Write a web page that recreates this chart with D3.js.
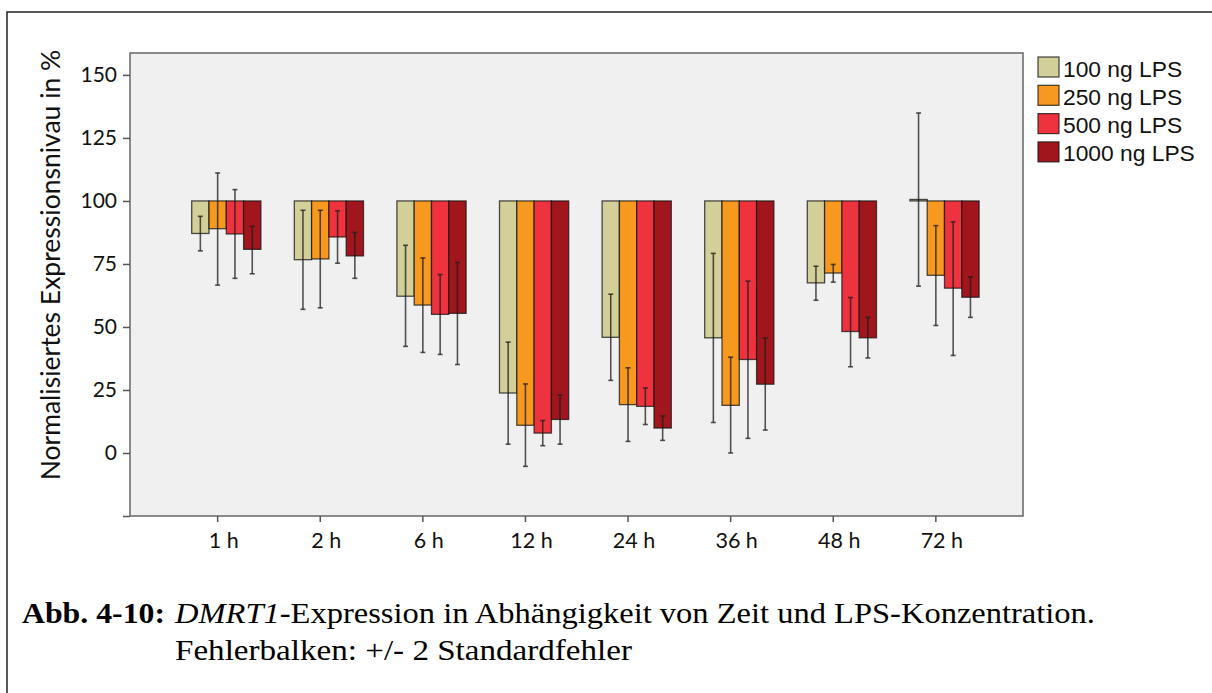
<!DOCTYPE html>
<html>
<head>
<meta charset="utf-8">
<script src="https://cdn.jsdelivr.net/npm/d3@7"></script>
<style>
  body { margin: 0; background: #fff; }
</style>
</head>
<body>
<div id="chart"></div>
<script>
// categories and series
var times = ["1 h", "2 h", "6 h", "12 h", "24 h", "36 h", "48 h", "72 h"];
var doses = ["100 ng LPS", "250 ng LPS", "500 ng LPS", "1000 ng LPS"];
var colors = ["#d3cf98", "#f8991f", "#ef333e", "#a1161c"];

// mean expression (%) per dose, one value per time point
var mean100  = [87.1, 76.7, 62.2, 23.8, 45.9, 45.7, 67.5, 100.6];
var mean250  = [89.0, 77.0, 58.7, 11.0, 19.2, 18.9, 71.4, 70.5];
var mean500  = [86.9, 85.7, 55.0, 7.9, 18.5, 37.1, 48.2, 65.4];
var mean1000 = [80.8, 78.2, 55.4, 13.3, 9.9, 27.3, 45.7, 61.8];

// error bar ends (+/- 2 SE)
var hi100  = [93.9, 96.3, 82.4, 44.0, 63.0, 79.2, 74.1, 134.9];
var lo100  = [80.2, 57.0, 42.3, 3.5, 28.8, 12.1, 60.6, 66.2];
var hi250  = [111.1, 96.3, 77.4, 27.4, 33.8, 38.0, 74.8, 90.2];
var lo250  = [66.6, 57.6, 39.9, -5.3, 4.6, 0.0, 67.8, 50.6];
var hi500  = [104.5, 96.1, 70.8, 12.9, 25.8, 68.2, 61.7, 91.7];
var lo500  = [69.3, 75.3, 39.1, 2.9, 11.3, 5.8, 34.2, 38.7];
var hi1000 = [89.9, 87.5, 75.6, 23.0, 14.7, 45.6, 53.8, 69.9];
var lo1000 = [71.1, 69.3, 35.1, 3.5, 5.0, 9.1, 37.7, 53.8];

var yTicks = [0, 25, 50, 75, 100, 125, 150];
var baseline = 100;

var means = [mean100, mean250, mean500, mean1000];
var his = [hi100, hi250, hi500, hi1000];
var los = [lo100, lo250, lo500, lo1000];

var rows = [];
times.forEach(function(t, i) {
  doses.forEach(function(d, j) {
    rows.push({time: t, dose: d, k: j, mean: means[j][i], hi: his[j][i], lo: los[j][i]});
  });
});

var W = 1212, H = 693;
var plot = {left: 130, top: 53, right: 1023, bottom: 516};

var svg = d3.select("#chart").append("svg")
  .attr("width", W)
  .attr("height", H);

// outer frame (only top and left edges are inside the picture)
svg.append("path")
  .attr("d", "M7,693 V12 H1212")
  .attr("fill", "none")
  .attr("stroke", "#222")
  .attr("stroke-width", 1.5);

var y = d3.scaleLinear()
  .domain([-25, 158.7])
  .range([plot.bottom, plot.top]);

var x = d3.scaleBand()
  .domain(times)
  .range([191.7, 979.1])
  .paddingInner(0.3255)
  .paddingOuter(0);

var xs = d3.scaleBand()
  .domain(doses)
  .range([0, x.bandwidth()]);

var color = d3.scaleOrdinal().domain(doses).range(colors);

// plot background
svg.append("rect")
  .attr("x", plot.left)
  .attr("y", plot.top)
  .attr("width", plot.right - plot.left)
  .attr("height", plot.bottom - plot.top)
  .attr("fill", "#f0f0f0")
  .attr("stroke", "#666")
  .attr("stroke-width", 1.5);

// Y axis
var yAxis = svg.append("g")
  .attr("transform", "translate(" + plot.left + ",0)")
  .call(d3.axisLeft(y).tickValues(yTicks.concat([-25])).tickSize(7).tickPadding(6)
    .tickFormat(function(d) { return d < 0 ? "" : d; }));
yAxis.select(".domain").remove();
yAxis.selectAll(".tick line").attr("stroke", "#555").attr("stroke-width", 1.5);
yAxis.selectAll("text")
  .style("font-family", "Lato, 'Open Sans', sans-serif")
  .style("font-size", "21px")
  .attr("fill", "#111");

// X axis, ticks sit over the second bar of each cluster
var xAxis = svg.append("g")
  .attr("transform", "translate(" + (-x.bandwidth() / 8) + "," + plot.bottom + ")")
  .call(d3.axisBottom(x).tickSize(6).tickPadding(11));
xAxis.select(".domain").remove();
xAxis.selectAll(".tick line").attr("stroke", "#555").attr("stroke-width", 1.5);
xAxis.selectAll("text")
  .attr("x", 6)
  .style("font-family", "Lato, 'Open Sans', sans-serif")
  .style("font-size", "21.5px")
  .attr("fill", "#111");

// y axis title
svg.append("text")
  .attr("transform", "translate(60," + 265 + ") rotate(-90)")
  .style("text-anchor", "middle")
  .style("font-family", "Lato, 'Open Sans', sans-serif")
  .style("font-size", "26.5px")
  .attr("fill", "#111")
  .text("Normalisiertes Expressionsnivau in %");

// bars, hanging from 100
svg.append("g").selectAll("rect")
  .data(rows)
  .enter()
  .append("rect")
    .attr("x", function(d) { return x(d.time) + xs(d.dose); })
    .attr("y", function(d) { return y(Math.max(d.mean, baseline)); })
    .attr("width", xs.bandwidth())
    .attr("height", function(d) { return Math.abs(y(d.mean) - y(baseline)); })
    .attr("fill", function(d) { return color(d.dose); })
    .attr("stroke", "rgba(20,20,20,0.75)")
    .attr("stroke-width", 1.3);

// error bars
var eb = svg.append("g")
  .attr("stroke", "rgba(30,30,30,0.75)")
  .attr("stroke-width", 1.6);
var cx = function(d) { return x(d.time) + xs(d.dose) + xs.bandwidth() / 2; };
eb.selectAll("line.v")
  .data(rows).enter().append("line")
    .attr("class", "v")
    .attr("x1", cx).attr("x2", cx)
    .attr("y1", function(d) { return y(d.hi); })
    .attr("y2", function(d) { return y(d.lo); });
["hi", "lo"].forEach(function(key) {
  eb.selectAll("line." + key)
    .data(rows).enter().append("line")
      .attr("class", key)
      .attr("x1", function(d) { return cx(d) - 2.5; })
      .attr("x2", function(d) { return cx(d) + 2.5; })
      .attr("y1", function(d) { return y(d[key]); })
      .attr("y2", function(d) { return y(d[key]); });
});

// legend
var legend = svg.append("g").attr("transform", "translate(1038,57)");
var li = legend.selectAll("g")
  .data(doses)
  .enter()
  .append("g")
    .attr("transform", function(d, i) { return "translate(0," + (i * 28.3) + ")"; });
li.append("rect")
  .attr("width", 21)
  .attr("height", 20)
  .attr("fill", function(d) { return color(d); })
  .attr("stroke", "rgba(20,20,20,0.8)")
  .attr("stroke-width", 1.2);
li.append("text")
  .attr("x", 25)
  .attr("y", 19.5)
  .style("font-family", "'Liberation Sans', Arial, sans-serif")
  .style("font-size", "22.8px")
  .attr("fill", "#111")
  .text(function(d) { return d; });

// caption (source text is horizontally stretched)
var cap = svg.append("g")
  .style("font-family", "'Liberation Serif', 'Times New Roman', serif")
  .style("font-size", "29px")
  .attr("fill", "#000");
cap.append("text")
  .attr("x", 22)
  .attr("y", 623)
  .attr("textLength", 143)
  .attr("lengthAdjust", "spacingAndGlyphs")
  .style("font-weight", "bold")
  .text("Abb. 4-10:");
var l1 = cap.append("text").attr("x", 175).attr("y", 623)
  .attr("textLength", 920)
  .attr("lengthAdjust", "spacingAndGlyphs");
l1.append("tspan").style("font-style", "italic").text("DMRT1");
l1.append("tspan").text("-Expression in Abhängigkeit von Zeit und LPS-Konzentration.");
cap.append("text")
  .attr("x", 175)
  .attr("y", 660)
  .attr("textLength", 457)
  .attr("lengthAdjust", "spacingAndGlyphs")
  .text("Fehlerbalken: +/- 2 Standardfehler");
</script>
</body>
</html>
